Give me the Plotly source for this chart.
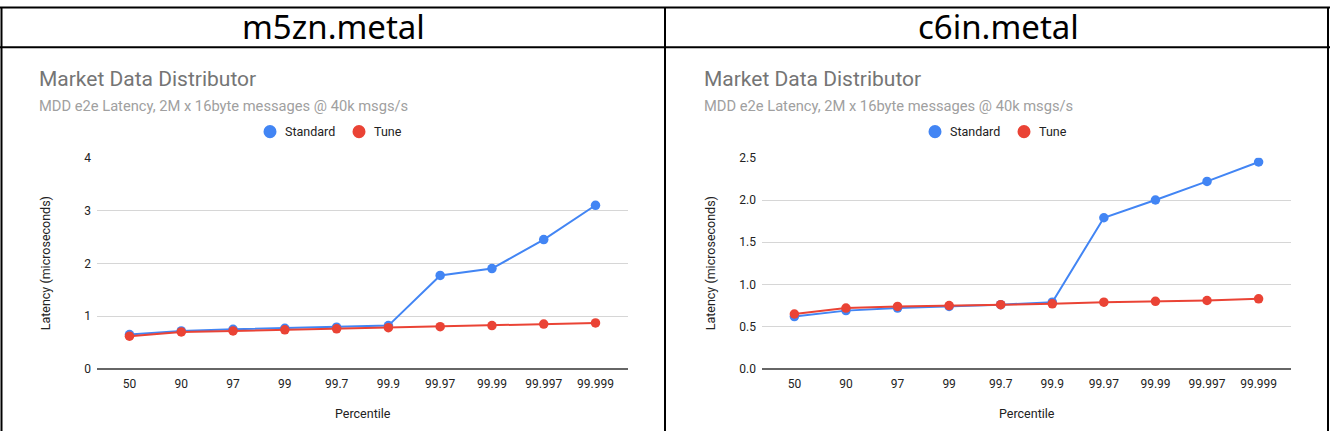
import plotly.graph_objects as go

W, H = 1330, 438

percentiles = ["50", "90", "97", "99", "99.7", "99.9", "99.97", "99.99", "99.997", "99.999"]

m5zn_standard = [0.65, 0.72, 0.75, 0.77, 0.79, 0.82, 1.77, 1.90, 2.45, 3.10]
m5zn_tune = [0.62, 0.70, 0.72, 0.74, 0.76, 0.78, 0.80, 0.82, 0.85, 0.87]

c6in_standard = [0.62, 0.69, 0.72, 0.74, 0.76, 0.79, 1.79, 2.00, 2.22, 2.45]
c6in_tune = [0.65, 0.72, 0.74, 0.75, 0.76, 0.77, 0.79, 0.80, 0.81, 0.83]

headers = ["m5zn.metal", "c6in.metal"]
chart_title = "Market Data Distributor"
chart_subtitle = "MDD e2e Latency, 2M x 16byte messages @ 40k msgs/s"
series_names = ["Standard", "Tune"]
y_title = "Latency (microseconds)"
x_title = "Percentile"

BLUE = "#4285F4"
RED = "#EA4335"
FONT = "Roboto"

# observed vertical mapping of the rendered page: obs = VS * y + VOFF
VS, VOFF = 0.963, 8.0


def px(x):
    return x / W


def py(y):
    yy = max((y - VOFF) / VS, 0.5)
    return 1 - yy / H


fig = go.Figure()

panels = [
    dict(std=m5zn_standard, tune=m5zn_tune, xa="x", ya="y", x0=97, x1=628, offset=0),
    dict(std=c6in_standard, tune=c6in_tune, xa="x2", ya="y2", x0=762, x1=1291, offset=665),
]

for p in panels:
    for name, vals, col in [(series_names[0], p["std"], BLUE), (series_names[1], p["tune"], RED)]:
        fig.add_trace(go.Scatter(
            x=percentiles, y=vals, mode="lines+markers", name=name,
            line=dict(color=col, width=2),
            marker=dict(color=col, size=9.5),
            xaxis=p["xa"], yaxis=p["ya"], showlegend=False,
        ))

y_dom = [py(368), py(158)]

axis_common = dict(
    showline=False, zeroline=False,
    tickfont=dict(family=FONT, size=12, color="#222222"),
    ticks="", fixedrange=True,
)

fig.update_layout(
    width=W, height=H,
    margin=dict(l=0, r=0, t=0, b=0),
    paper_bgcolor="white", plot_bgcolor="white",
    font=dict(family=FONT),
    showlegend=False,
    xaxis=dict(domain=[px(97), px(628)], anchor="y", type="category",
               showgrid=False, ticklabelstandoff=6, **axis_common),
    yaxis=dict(domain=y_dom, anchor="x", range=[0, 4], dtick=1, tickformat="d",
               showgrid=True, gridcolor="#d6d6d6", gridwidth=1, ticklabelstandoff=5,
               **axis_common),
    xaxis2=dict(domain=[px(762), px(1291)], anchor="y2", type="category",
                showgrid=False, ticklabelstandoff=6, **axis_common),
    yaxis2=dict(domain=y_dom, anchor="x2", range=[0, 2.5], dtick=0.5, tickformat=".1f",
                showgrid=True, gridcolor="#d6d6d6", gridwidth=1, ticklabelstandoff=5,
                **axis_common),
)

annotations = []
shapes = []
legend_items = [(series_names[0], BLUE, 270), (series_names[1], RED, 359)]
R = 6.5
for i, p in enumerate(panels):
    off = p["offset"]
    annotations.append(dict(text=headers[i], x=px(333 + off), y=py(27), xref="paper", yref="paper",
                            xanchor="center", yanchor="middle", showarrow=False,
                            font=dict(family="Noto Sans", size=33, color="#000000")))
    annotations.append(dict(text=chart_title, x=px(37 + off), y=py(80), xref="paper", yref="paper",
                            xanchor="left", yanchor="middle", showarrow=False,
                            font=dict(family=FONT, size=21, color="#757575")))
    annotations.append(dict(text=chart_subtitle, x=px(37 + off), y=py(106), xref="paper", yref="paper",
                            xanchor="left", yanchor="middle", showarrow=False,
                            font=dict(family=FONT, size=14.7, color="#a0a0a0")))
    annotations.append(dict(text=y_title, x=px(45 + off), y=py(263), xref="paper", yref="paper",
                            xanchor="center", yanchor="middle", showarrow=False, textangle=-90,
                            font=dict(family=FONT, size=12.5, color="#222222")))
    annotations.append(dict(text=x_title, x=(px(p["x0"]) + px(p["x1"])) / 2, y=py(412),
                            xref="paper", yref="paper", xanchor="center", yanchor="middle",
                            showarrow=False, font=dict(family=FONT, size=12.5, color="#222222")))
    # legend (circle + label)
    for name, col, cx in legend_items:
        cx = cx + off
        shapes.append(dict(type="circle", xref="paper", yref="paper",
                           x0=px(cx - R), x1=px(cx + R), y0=py(132 + R), y1=py(132 - R),
                           fillcolor=col, line=dict(width=0)))
        annotations.append(dict(text=name, x=px(cx + 13), y=py(132), xref="paper", yref="paper",
                                xanchor="left", yanchor="middle", showarrow=False,
                                font=dict(family=FONT, size=12.5, color="#222222")))
    # baseline
    shapes.append(dict(type="line", xref="paper", yref="paper", x0=px(p["x0"]), x1=px(p["x1"]),
                       y0=py(368), y1=py(368), line=dict(color="#333333", width=1.5)))

# table borders
border = dict(color="#000000", width=2)
shapes += [
    dict(type="line", xref="paper", yref="paper", x0=0, x1=1, y0=py(1), y1=py(1), line=border),
    dict(type="line", xref="paper", yref="paper", x0=0, x1=1, y0=py(48), y1=py(48), line=border),
    dict(type="line", xref="paper", yref="paper", x0=px(1.5), x1=px(1.5), y0=0, y1=py(1), line=border),
    dict(type="line", xref="paper", yref="paper", x0=px(665), x1=px(665), y0=0, y1=py(1), line=border),
    dict(type="line", xref="paper", yref="paper", x0=px(1328), x1=px(1328), y0=0, y1=py(1), line=border),
]

fig.update_layout(annotations=annotations, shapes=shapes)

fig.write_html(
    "out.html",
    config={"displayModeBar": False},
    post_script=(
        "document.documentElement.style.margin='0';"
        "document.documentElement.style.overflow='hidden';"
        "document.body.style.margin='0';"
        "document.body.style.overflow='hidden';"
        "var d=document.getElementById('{plot_id}');"
        "d.style.position='fixed';d.style.top='0px';d.style.left='0px';"
    ),
)
